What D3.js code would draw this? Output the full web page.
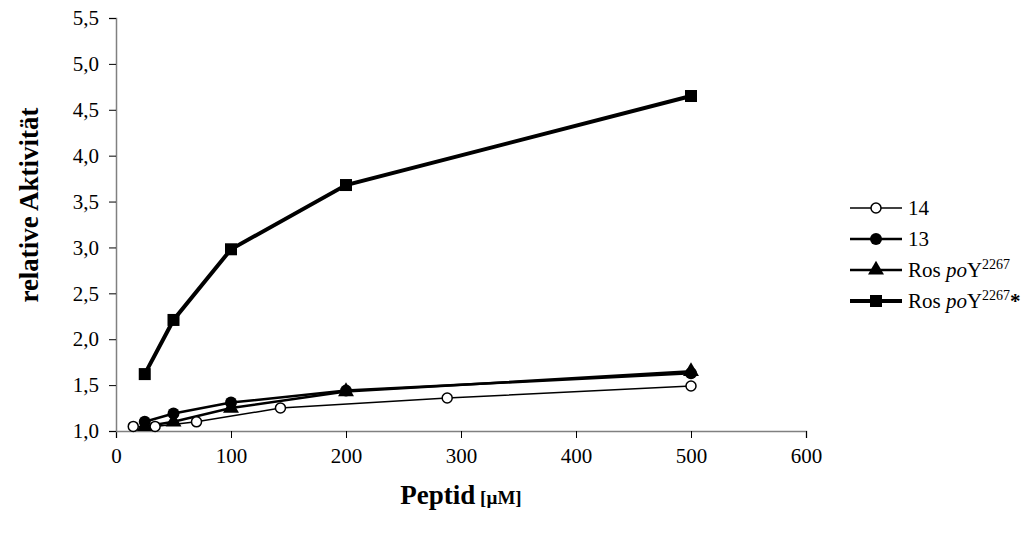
<!DOCTYPE html>
<html><head><meta charset="utf-8">
<script src="https://cdn.jsdelivr.net/npm/d3@7"></script>
<style>body{margin:0;background:#fff}svg{display:block}</style>
</head><body><svg id="c" width="1036" height="533"></svg>
<script>
const xTicks = [0,100,200,300,400,500,600];
const yTicks = [1.0,1.5,2.0,2.5,3.0,3.5,4.0,4.5,5.0,5.5];
const s14x = [15,34,70,143,288,500];
const s14y = [1.05,1.05,1.10,1.25,1.36,1.49];
const s13x = [25,50,100,200,500];
const s13y = [1.10,1.19,1.31,1.44,1.63];
const rosX = [25,50,100,200,500];
const rosY = [1.05,1.10,1.25,1.43,1.65];
const rosStarX = [25,50,100,200,500];
const rosStarY = [1.62,2.21,2.98,3.68,4.65];

const svg = d3.select("#c");
const font = "'Liberation Serif','Times New Roman',serif";
const x = d3.scaleLinear().domain([0,600]).range([116,806]);
const y = d3.scaleLinear().domain([1,5.5]).range([431,18]);
const fmt = d => d3.format(".1f")(d).replace(".", ",");

const gx = svg.append("g").attr("transform","translate(0,431)")
  .call(d3.axisBottom(x).tickValues(xTicks).tickSize(7).tickPadding(10).tickFormat(d3.format("d")));
const gy = svg.append("g").attr("transform","translate(116,0)")
  .call(d3.axisLeft(y).tickValues(yTicks).tickSize(7).tickPadding(10).tickFormat(fmt));
[gx,gy].forEach(g=>{
  g.select(".domain").attr("stroke","#808080").attr("stroke-width",1.5);
  g.selectAll(".tick line").attr("stroke","#000").attr("stroke-width",1);
  g.selectAll(".tick text").attr("font-family",font).attr("font-size",21).attr("fill","#000");
});

// axis titles
const xt = svg.append("text").attr("x",461).attr("y",504).attr("text-anchor","middle")
  .attr("font-family",font).attr("font-weight","bold").attr("font-size",27);
xt.append("tspan").text("Peptid");
xt.append("tspan").attr("font-size",19).text(" [µM]");
svg.append("text").attr("transform","translate(38,205) rotate(-90)").attr("text-anchor","middle")
  .attr("font-family",font).attr("font-weight","bold").attr("font-size",27).text("relative Aktivität");

const series = [
  {xs:s14x, ys:s14y, w:1.5, m:"ocircle"},
  {xs:s13x, ys:s13y, w:2.5, m:"circle"},
  {xs:rosX, ys:rosY, w:2.5, m:"triangle"},
  {xs:rosStarX, ys:rosStarY, w:4, m:"square"}
];
const line = d3.line().x(d=>x(d[0])).y(d=>y(d[1]));
function marker(g, type, cx, cy){
  if(type==="ocircle") g.append("circle").attr("cx",cx).attr("cy",cy).attr("r",5).attr("fill","#fff").attr("stroke","#000").attr("stroke-width",1.5);
  else if(type==="circle") g.append("circle").attr("cx",cx).attr("cy",cy).attr("r",6).attr("fill","#000");
  else if(type==="triangle") g.append("path").attr("d",d3.symbol(d3.symbolTriangle,110)()).attr("transform",`translate(${cx},${cy})`).attr("fill","#000");
  else g.append("rect").attr("x",cx-6).attr("y",cy-6).attr("width",12).attr("height",12).attr("fill","#000");
}
series.forEach(s=>{
  const pts = s.xs.map((v,i)=>[v,s.ys[i]]);
  svg.append("path").attr("d",line(pts)).attr("fill","none").attr("stroke","#000").attr("stroke-width",s.w);
});
series.forEach(s=>{
  const g = svg.append("g");
  s.xs.forEach((v,i)=>marker(g,s.m,x(v),y(s.ys[i])));
});

// legend
const legY = [208,239,270,301];
series.forEach((s,i)=>{
  const g = svg.append("g");
  g.append("line").attr("x1",850).attr("x2",902).attr("y1",legY[i]).attr("y2",legY[i]).attr("stroke","#000").attr("stroke-width",s.w);
  marker(g,s.m,876,legY[i]);
  const t = g.append("text").attr("x",908).attr("y",legY[i]+7).attr("font-family",font).attr("font-size",21).attr("fill","#000");
  if(i===0) t.text("14");
  else if(i===1) t.text("13");
  else {
    t.append("tspan").text("Ros ");
    t.append("tspan").attr("font-style","italic").text("po");
    t.append("tspan").text("Y");
    t.append("tspan").attr("font-size",14).attr("dy",-8).text("2267");
    if(i===3) t.append("tspan").attr("font-weight","bold").attr("font-size",21).attr("dy",8).text("*");
  }
});
</script></body></html>
